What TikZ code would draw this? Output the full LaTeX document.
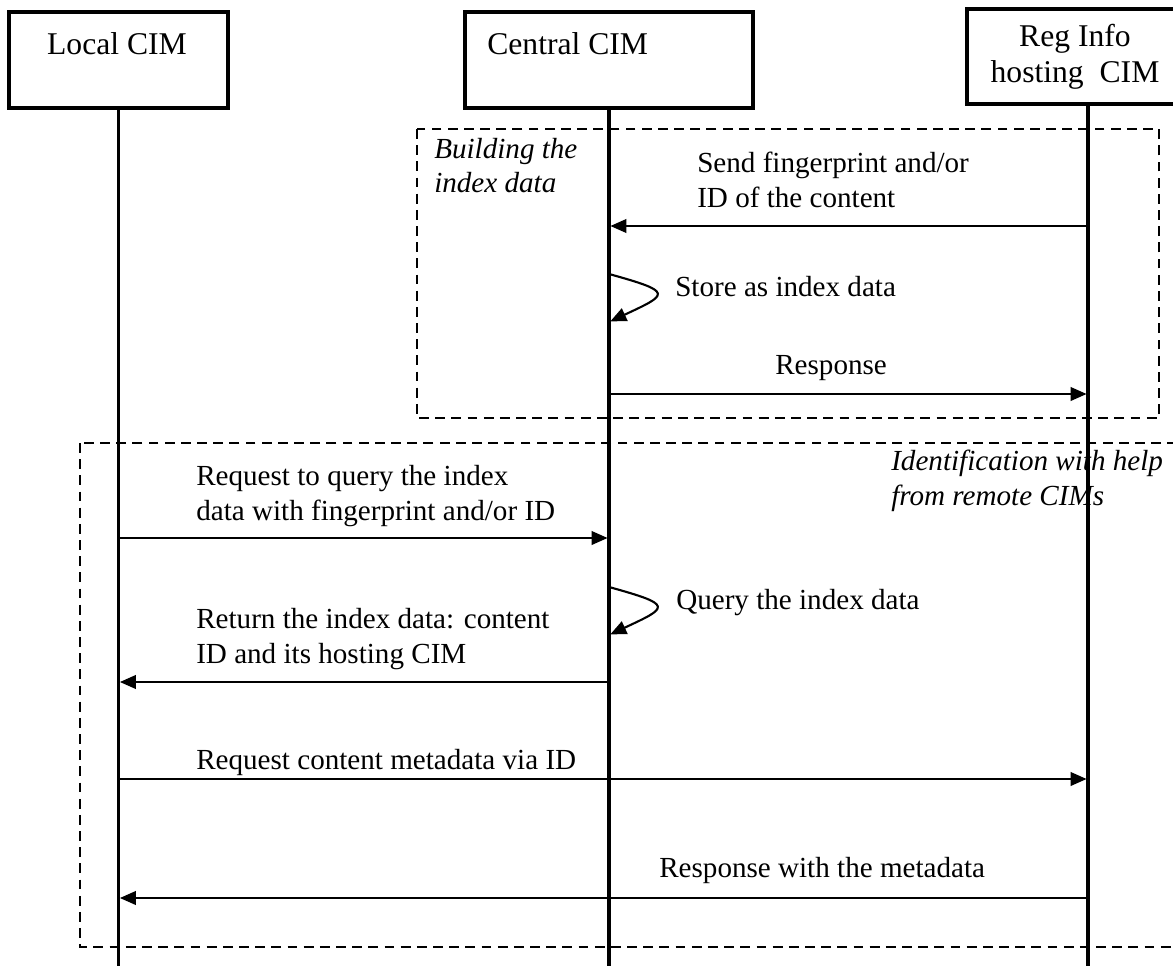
\documentclass[tikz,border=0pt]{standalone}
\usepackage{fontspec}
\setmainfont{Liberation Serif}
\usetikzlibrary{arrows.meta}

\newcommand\msgfont{\fontsize{20.7}{24.8}\selectfont}
\newcommand\headfont{\fontsize{22.5}{25.8}\selectfont}

\tikzset{
  headbox/.style={draw, line width=2.8pt, minimum height=2.4cm},
  headtext/.style={font=\headfont, inner sep=0pt},
  lifeline/.style={line width=2.8pt},
  msg/.style={line width=1.5pt, shorten >=1pt, -{Triangle[length=0.4cm,width=0.34cm]}},
  msgtext/.style={font=\msgfont, inner sep=0pt, align=left, anchor=base west},
  groupbox/.style={line width=1.4pt, dash pattern=on 7pt off 4.5pt},
  grouptext/.style={font=\msgfont\itshape, inner sep=0pt, align=left, anchor=base west},
}

\begin{document}
\begin{tikzpicture}[x=0.025cm, y=-0.025cm]
    \useasboundingbox (0,0) rectangle (1173,966);

    % groups
    \draw[groupbox] (417,129) rectangle (1159,418);
    \draw[groupbox] (80,443) rectangle (1200,947);
    \node[grouptext] (buildtxt) at (434,193) {Building the\\index data};
    \node[grouptext] (identtxt) at (891,505) {Identification with help\\from remote CIMs};

    % heads
    \node[headbox, minimum width=5.475cm] (local) at (118.5,60) {};
    \node[headbox, minimum width=7.2cm] (central) at (609,60) {};
    \node[headbox, line width=3.4pt, minimum width=6.05cm, minimum height=2.375cm] (reg) at (1088,56.5) {};
    \node[headtext, anchor=base] (localtxt) at (117,55) {Local CIM};
    \node[headtext, anchor=base west] (centraltxt) at (487,55) {Central CIM};
    \node[headtext, anchor=base, align=center] (regtxt) at (1075,83) {Reg Info\\hosting~~CIM};

    % lifelines
    \coordinate (bottom) at (0,970);
    \draw[lifeline] (local.south) -- (local.south |- bottom);
    \draw[lifeline] (central.south) -- (central.south |- bottom);
    \draw[lifeline] (reg.south) -- (reg.south |- bottom);

    % building the index data
    \coordinate (reg1) at (1088,226);
    \coordinate (cen1) at (609,226);
    \draw[msg] (reg1) -- (cen1);
    \node[msgtext] (sendtxt) at (697,207) {Send fingerprint and/or\\ID of the content};

    \coordinate (cen2) at (609,274);
    \coordinate (cen3) at (609,322);
    \draw[msg] (cen2) .. controls +(65,18) and +(60,-28) .. (cen3);
    \node[msgtext] (storetxt) at (675,296) {Store as index data};

    \coordinate (cen4) at (609,394);
    \coordinate (reg4) at (1088,394);
    \draw[msg] (cen4) -- (reg4);
    \node[msgtext] (resptxt) at (775,374) {Response};

    % identification
    \coordinate (loc5) at (118.5,538);
    \coordinate (cen5) at (609,538);
    \draw[msg] (loc5) -- (cen5);
    \node[msgtext] (querytxt) at (196,520) {Request to query the index\\data with fingerprint and/or ID};

    \coordinate (cen6) at (609,587);
    \coordinate (cen7) at (609,635);
    \draw[msg] (cen6) .. controls +(65,18) and +(60,-28) .. (cen7);
    \node[msgtext] (lookuptxt) at (676,609) {Query the index data};

    \coordinate (cen8) at (609,682);
    \coordinate (loc8) at (118.5,682);
    \draw[msg] (cen8) -- (loc8);
    \node[msgtext] (returntxt) at (196,663) {Return the index data: content\\ID and its hosting CIM};

    \coordinate (loc9) at (118.5,779);
    \coordinate (reg9) at (1088,779);
    \draw[msg] (loc9) -- (reg9);
    \node[msgtext] (metatxt) at (196,769) {Request content metadata via ID};

    \coordinate (reg10) at (1088,898);
    \coordinate (loc10) at (118.5,898);
    \draw[msg] (reg10) -- (loc10);
    \node[msgtext] (metaresptxt) at (659,877) {Response with the metadata};
\end{tikzpicture}
\end{document}
